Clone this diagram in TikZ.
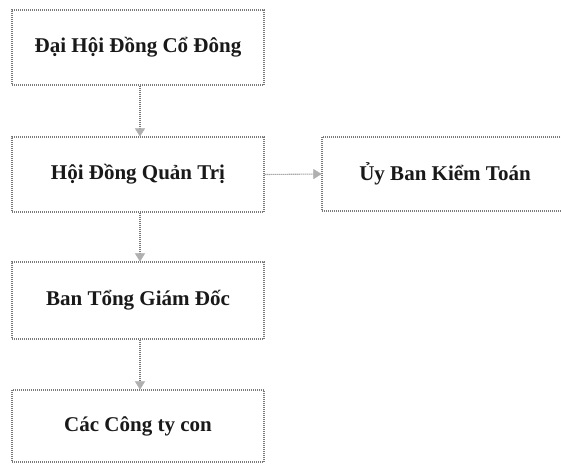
\documentclass[tikz,border=0pt]{standalone}
\usepackage{fontspec}
\setmainfont{Liberation Serif}
\usetikzlibrary{arrows.meta}
\definecolor{dotgray}{HTML}{7A7A7A}
\definecolor{headgray}{HTML}{B0B0B0}
\tikzset{
  orgbox/.style={draw=dotgray, line width=1.1pt, dash pattern=on 1pt off 1pt,
    minimum width=252pt, inner sep=0pt, font=\fontsize{21}{24}\selectfont\bfseries, text=black!90},
  link/.style={draw=dotgray, line width=1.1pt, dash pattern=on 1pt off 1pt,
    -{Triangle[width=10pt,length=8pt,fill=headgray,color=headgray,line width=0.4pt]}}
}
\begin{document}
\begin{tikzpicture}[x=1pt,y=-1pt]
\useasboundingbox (0,0) rectangle (561,464);
\fill[white] (0,0) rectangle (561,464);
\node[orgbox, minimum height=75pt] (dh) at (138,47.5) {Đại Hội Đồng Cổ Đông};
\node[orgbox, minimum height=75pt] (hd) at (138,174.5) {Hội Đồng Quản Trị};
\node[orgbox, minimum height=77pt] (bt) at (138,300.5) {Ban Tổng Giám Đốc};
\node[orgbox, minimum height=72pt] (cc) at (138,426) {Các Công ty con};
\node[orgbox, minimum width=246pt, minimum height=74pt] (ub) at (445,174) {Ủy Ban Kiểm Toán};
\draw[link] ([xshift=2pt]dh.south) -- ([xshift=2pt]hd.north);
\draw[link] ([xshift=2pt]hd.south) -- ([xshift=2pt]bt.north);
\draw[link] ([xshift=2pt]bt.south) -- ([xshift=2pt]cc.north);
\draw[link] (hd.east) -- (ub.west);
\end{tikzpicture}
\end{document}
